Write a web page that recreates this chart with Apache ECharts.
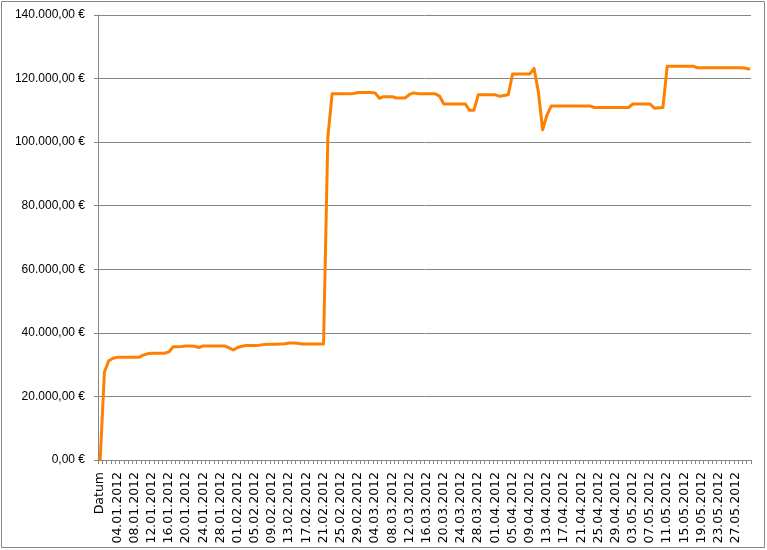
<!DOCTYPE html>
<html>
<head>
<meta charset="utf-8">
<script src="https://cdn.jsdelivr.net/npm/echarts@6/dist/echarts.min.js"></script>
<style>
html,body{margin:0;padding:0;background:#fff;}
#chart{width:767px;height:550px;}
</style>
</head>
<body>
<div id="chart"></div>
<script>
const categories = ["Datum",
"01.01.2012","02.01.2012","03.01.2012","04.01.2012","05.01.2012","06.01.2012","07.01.2012","08.01.2012","09.01.2012","10.01.2012",
"11.01.2012","12.01.2012","13.01.2012","14.01.2012","15.01.2012","16.01.2012","17.01.2012","18.01.2012","19.01.2012","20.01.2012",
"21.01.2012","22.01.2012","23.01.2012","24.01.2012","25.01.2012","26.01.2012","27.01.2012","28.01.2012","29.01.2012","30.01.2012","31.01.2012",
"01.02.2012","02.02.2012","03.02.2012","04.02.2012","05.02.2012","06.02.2012","07.02.2012","08.02.2012","09.02.2012","10.02.2012",
"11.02.2012","12.02.2012","13.02.2012","14.02.2012","15.02.2012","16.02.2012","17.02.2012","18.02.2012","19.02.2012","20.02.2012",
"21.02.2012","22.02.2012","23.02.2012","24.02.2012","25.02.2012","26.02.2012","27.02.2012","28.02.2012","29.02.2012",
"01.03.2012","02.03.2012","03.03.2012","04.03.2012","05.03.2012","06.03.2012","07.03.2012","08.03.2012","09.03.2012","10.03.2012",
"11.03.2012","12.03.2012","13.03.2012","14.03.2012","15.03.2012","16.03.2012","17.03.2012","18.03.2012","19.03.2012","20.03.2012",
"21.03.2012","22.03.2012","23.03.2012","24.03.2012","25.03.2012","26.03.2012","27.03.2012","28.03.2012","29.03.2012","30.03.2012","31.03.2012",
"01.04.2012","02.04.2012","03.04.2012","04.04.2012","05.04.2012","06.04.2012","07.04.2012","08.04.2012","09.04.2012","10.04.2012",
"11.04.2012","12.04.2012","13.04.2012","14.04.2012","15.04.2012","16.04.2012","17.04.2012","18.04.2012","19.04.2012","20.04.2012",
"21.04.2012","22.04.2012","23.04.2012","24.04.2012","25.04.2012","26.04.2012","27.04.2012","28.04.2012","29.04.2012","30.04.2012",
"01.05.2012","02.05.2012","03.05.2012","04.05.2012","05.05.2012","06.05.2012","07.05.2012","08.05.2012","09.05.2012","10.05.2012",
"11.05.2012","12.05.2012","13.05.2012","14.05.2012","15.05.2012","16.05.2012","17.05.2012","18.05.2012","19.05.2012","20.05.2012",
"21.05.2012","22.05.2012","23.05.2012","24.05.2012","25.05.2012","26.05.2012","27.05.2012","28.05.2012","29.05.2012","30.05.2012"];

const datumValue = [0];
const janValues = [27700,31200,32000,32300,32300,32300,32300,32300,32300,33000,
  33400,33600,33600,33600,33600,34000,35600,35600,35700,35900,
  35900,35800,35400,35900,35900,35900,35900,35900,35900,35300,34600];
const febValues = [35400,35800,36000,36000,36000,36100,36300,36400,36400,36400,
  36500,36600,36800,36800,36700,36500,36500,36500,36500,36500,
  36500,101500,115200,115200,115200,115200,115200,115300,115600];
const marValues = [115600,115600,115600,115500,113800,114300,114300,114300,113900,113900,
  113900,115000,115500,115200,115200,115200,115200,115200,114500,112000,
  112000,112000,112000,112000,112000,110000,110000,114900,114900,114900,114900];
const aprValues = [114900,114400,114700,114900,121400,121400,121400,121400,121400,123200,
  115900,103900,108500,111400,111400,111400,111400,111400,111400,111400,
  111400,111400,111400,110900,110900,110900,110900,110900,110900,110900];
const mayValues = [110900,110900,112000,112000,112000,112000,112000,110700,110800,110900,
  123900,123900,123900,123900,123900,123900,123900,123400,123400,123400,
  123400,123400,123400,123400,123400,123400,123400,123400,123300,123000];

const yTicks = {min: 0, max: 140000, interval: 20000};

const seriesValues = [].concat(datumValue, janValues, febValues, marValues, aprValues, mayValues);

function euro(v) {
  const s = Math.round(v).toString().replace(/\B(?=(\d{3})+(?!\d))/g, '.');
  return s + ',00 €';
}

const chart = echarts.init(document.getElementById('chart'), null, {renderer: 'canvas'});
chart.setOption({
  animation: false,
  backgroundColor: '#ffffff',
  grid: {left: 98, right: 16, top: 15, bottom: 90, containLabel: false},
  graphic: [{
    type: 'rect',
    shape: {x: 1.5, y: 1.5, width: 763, height: 546},
    style: {fill: 'none', stroke: '#868686', lineWidth: 1},
    silent: true
  }],
  xAxis: {
    type: 'category',
    data: categories,
    boundaryGap: true,
    axisLine: {show: true, lineStyle: {color: '#868686', width: 1}},
    axisTick: {show: true, interval: 0, length: 4, lineStyle: {color: '#868686'}},
    axisLabel: {
      interval: 3,
      rotate: 90,
      margin: 12,
      color: '#000',
      fontFamily: 'DejaVu Sans',
      fontSize: 12.5
    },
    splitLine: {show: false}
  },
  yAxis: {
    type: 'value',
    min: yTicks.min,
    max: yTicks.max,
    interval: yTicks.interval,
    axisLine: {show: true, lineStyle: {color: '#868686', width: 1}},
    axisTick: {show: true, length: 4, lineStyle: {color: '#868686'}},
    axisLabel: {
      formatter: euro,
      margin: 13,
      color: '#000',
      fontFamily: 'Liberation Sans',
      fontSize: 12
    },
    splitLine: {show: true, lineStyle: {color: '#868686', width: 1}}
  },
  series: [{
    type: 'line',
    data: seriesValues,
    symbol: 'none',
    smooth: false,
    lineStyle: {color: '#ff8000', width: 3, join: 'round', cap: 'round'},
    itemStyle: {color: '#ff8000'}
  }]
});
</script>
</body>
</html>
